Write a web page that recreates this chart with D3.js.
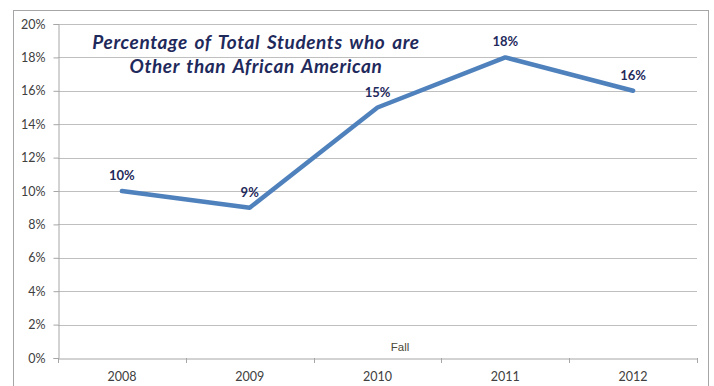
<!DOCTYPE html>
<html><head><meta charset="utf-8">
<script src="https://cdn.jsdelivr.net/npm/d3@7"></script>
<style>body{margin:0;background:#fff}svg{display:block}</style>
</head><body>
<svg id="c" width="714" height="386"></svg>
<script>
const years = ["2008","2009","2010","2011","2012"];
const values = [10, 9, 15, 18, 16];
const yTicks = [0,2,4,6,8,10,12,14,16,18,20];
const titleLines = ["Percentage of Total Students who are","Other than African American"];
const xAxisTitle = "Fall";

const svg = d3.select("#c");
const m = {l:58, t:24, r:697, b:358};
svg.append("rect").attr("x",13.5).attr("y",10.5).attr("width",695).attr("height",390)
  .attr("fill","#fff").attr("stroke","#a6a6a6").attr("stroke-width",1);

const x = d3.scaleBand().domain(years).range([m.l,m.r]);
const y = d3.scaleLinear().domain([0,20]).range([m.b,m.t]);

// gridlines
svg.append("g").selectAll("line").data(yTicks.filter(d=>d>0)).join("line")
  .attr("x1",m.l).attr("x2",m.r).attr("y1",d=>Math.round(y(d))+0.5).attr("y2",d=>Math.round(y(d))+0.5)
  .attr("stroke","#bfbfbf").attr("stroke-width",1);

// y axis
const ya = svg.append("g").attr("transform",`translate(${m.l+0.5},0)`)
  .call(d3.axisLeft(y).tickValues(yTicks).tickFormat(d=>d+"%").tickSize(5).tickPadding(8));
ya.select(".domain").attr("stroke","#a6a6a6");
ya.selectAll(".tick line").attr("stroke","#a6a6a6");
ya.selectAll("text").attr("font-family","Lato, 'Open Sans', sans-serif").attr("font-size",12.5).attr("fill","#404040");

// x axis
const xa = svg.append("g").attr("transform",`translate(0,${m.b+0.5})`)
  .call(d3.axisBottom(x).tickSize(0).tickPadding(14));
xa.select(".domain").attr("stroke","#a6a6a6");
xa.selectAll("text").attr("font-family","Lato, 'Open Sans', sans-serif").attr("font-size",12.5).attr("fill","#404040");
// category boundary ticks
const bounds = years.map(d=>x(d)).concat([x.range()[1]]);
svg.append("g").selectAll("line").data(bounds).join("line")
  .attr("x1",d=>Math.round(d)+0.5).attr("x2",d=>Math.round(d)+0.5)
  .attr("y1",m.b).attr("y2",m.b+5).attr("stroke","#a6a6a6");

// line
const line = d3.line().x((d,i)=>x(years[i])+x.bandwidth()/2).y(d=>y(d));
svg.append("path").datum(values).attr("d",line).attr("fill","none")
  .attr("stroke","#4F81BD").attr("stroke-width",4.5).attr("stroke-linejoin","round").attr("stroke-linecap","round");

// labels
svg.append("g").selectAll("text").data(values).join("text")
  .attr("x",(d,i)=>x(years[i])+x.bandwidth()/2).attr("y",d=>y(d)-11)
  .attr("text-anchor","middle").attr("font-family","Lato, 'Open Sans', sans-serif")
  .attr("font-weight","bold").attr("font-size",13).attr("fill","#1F2A5C")
  .text(d=>d+"%");

// title
svg.append("g").selectAll("text").data(titleLines).join("text")
  .attr("x",256).attr("y",(d,i)=>49+i*23.5).attr("text-anchor","middle")
  .attr("font-family","Lato, 'Open Sans', sans-serif").attr("font-style","italic").attr("font-weight","bold")
  .attr("font-size",19).attr("letter-spacing",0.6).attr("word-spacing",2).attr("fill","#1F2A5C").text(d=>d);

// axis title
svg.append("text").attr("x",400).attr("y",351).attr("text-anchor","middle")
  .attr("font-family","Arial, 'Liberation Sans', sans-serif").attr("font-size",11.5).attr("fill","#4a4a3a").text(xAxisTitle);
</script>
</body></html>
